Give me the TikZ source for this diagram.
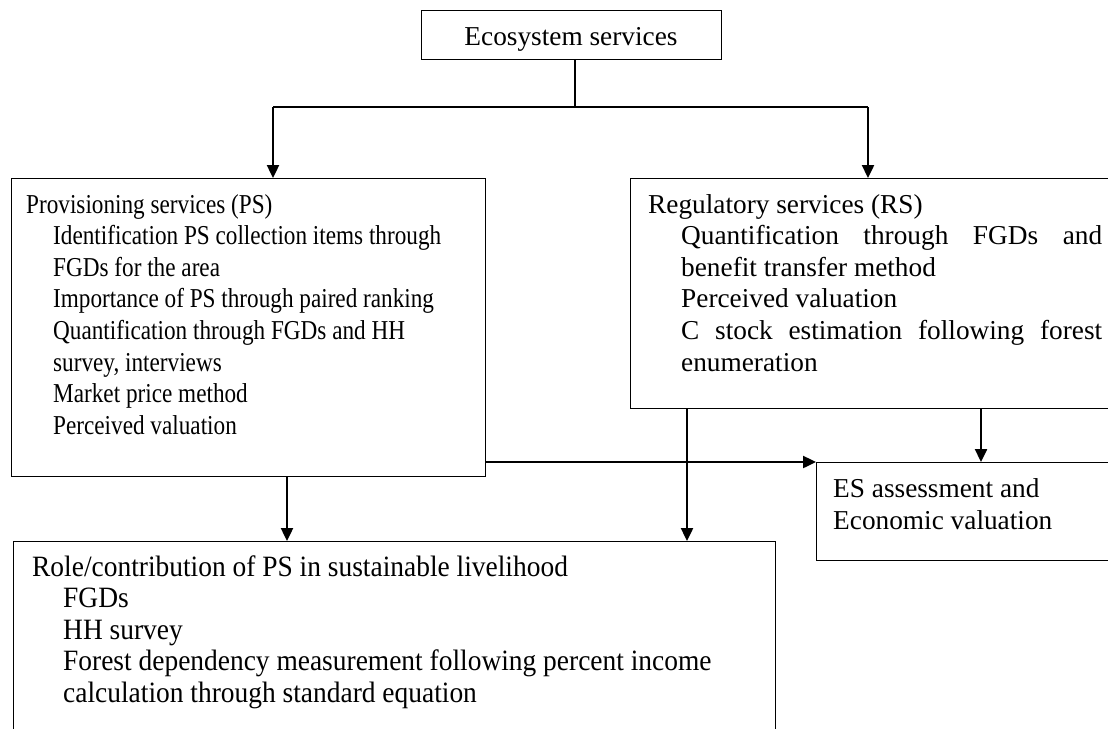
\documentclass[tikz,border=0pt]{standalone}
\usepackage{graphicx}
\usepackage{fontspec}
\setmainfont{Liberation Serif}
\usetikzlibrary{arrows.meta}
\tikzset{
  box/.style={draw, line width=1.3pt, rectangle, inner sep=0pt, anchor=north west},
  conn/.style={line width=2.4pt},
  arr/.style={conn, -{Triangle[length=13pt,width=12pt]}},
  txt/.style={anchor=base west, inner sep=0pt, font=\fontsize{27.3}{32}\selectfont},
  btxt/.style={anchor=base west, inner sep=0pt, font=\fontsize{29.5}{32}\selectfont},
  ctxt/.style={txt, anchor=base},
}
\newcommand{\cnd}[1]{\scalebox{0.85}[1]{#1}}
\newcommand{\bnd}[1]{\scalebox{0.93}[1]{#1}}
\begin{document}
\begin{tikzpicture}[x=1pt, y=-1pt]
\useasboundingbox (0,0) rectangle (1108,728);
\fill[white] (0,0) rectangle (1108,728);
\clip (0,0) rectangle (1108,728);

% boxes
\node[box, minimum width=300pt, minimum height=49pt] (es) at (421,10) {};
\node[box, minimum width=474pt, minimum height=298pt] (ps) at (11,178) {};
\node[box, minimum width=600pt, minimum height=230pt] (rs) at (630,178) {};
\node[box, minimum width=400pt, minimum height=98pt] (esa) at (816,462) {};
\node[box, minimum width=762pt, minimum height=300pt] (role) at (13,541) {};

% texts
\node[ctxt] (t0) at (571,45) {Ecosystem services};

\node[txt] (p0) at (26,213) {\cnd{Provisioning services (PS)}};
\node[txt] (p1) at (53,244.6) {\cnd{Identification PS collection items through}};
\node[txt] (p2) at (53,276.2) {\cnd{FGDs for the area}};
\node[txt] (p3) at (53,307.8) {\cnd{Importance of PS through paired ranking}};
\node[txt] (p4) at (53,339.4) {\cnd{Quantification through FGDs and HH}};
\node[txt] (p5) at (53,371) {\cnd{survey, interviews}};
\node[txt] (p6) at (53,402.6) {\cnd{Market price method}};
\node[txt] (p7) at (53,434.2) {\cnd{Perceived valuation}};

\node[txt] (r0) at (648,213) {Regulatory services (RS)};
\node[txt] (r1) at (681,244.6) {\hbox to 421pt{Quantification\hfill through\hfill FGDs\hfill and}};
\node[txt] (r2) at (681,276.2) {benefit transfer method};
\node[txt] (r3) at (681,307.8) {Perceived valuation};
\node[txt] (r4) at (681,339.4) {\hbox to 421pt{C\hfill stock\hfill estimation\hfill following\hfill forest}};
\node[txt] (r5) at (681,371) {enumeration};

\node[txt] (e1) at (833,497) {ES assessment and};
\node[txt] (e2) at (833,529) {Economic valuation};

\node[btxt] (l0) at (32,576) {\bnd{Role/contribution of PS in sustainable livelihood}};
\node[btxt] (l1) at (63,607.5) {\bnd{FGDs}};
\node[btxt] (l2) at (63,639) {\bnd{HH survey}};
\node[btxt] (l3) at (63,670.5) {\bnd{Forest dependency measurement following percent income}};
\node[btxt] (l4) at (63,702) {\bnd{calculation through standard equation}};

% connectors
\coordinate (j) at (575,107);
\coordinate (jl) at (273,107);
\coordinate (jr) at (868,107);
\coordinate (xa) at (287,0);
\coordinate (xb) at (687,0);
\coordinate (xc) at (981,0);

\draw[conn] (j |- es.south) -- (j);
\draw[conn] (jl) -- (jr);
\draw[arr] (jl) -- (jl |- ps.north);
\draw[arr] (jr) -- (jr |- rs.north);
\draw[arr] (ps.east |- esa.north west) -- (esa.north west);
\draw[arr] (xc |- rs.south) -- (xc |- esa.north);
\draw[arr] (xb |- rs.south) -- (xb |- role.north);
\draw[arr] (xa |- ps.south) -- (xa |- role.north);
\end{tikzpicture}
\end{document}
